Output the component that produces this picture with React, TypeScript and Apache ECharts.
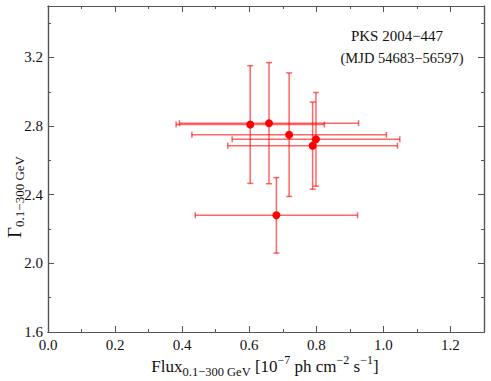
import React, { useEffect, useRef } from "react";
import * as echarts from "echarts";

const flux = [0.603, 0.659, 0.719, 0.799, 0.789, 0.681];
const fluxErr = [0.221, 0.267, 0.29, 0.25, 0.253, 0.242];
const gamma = [2.809, 2.817, 2.75, 2.723, 2.686, 2.28];
const gammaErr = [0.343, 0.353, 0.36, 0.273, 0.254, 0.22];
const yTickLabels = ["1.6", "2.0", "2.4", "2.8", "3.2"];
const xTickLabels = ["0.0", "0.2", "0.4", "0.6", "0.8", "1.0", "1.2"];

const FONT = "'Liberation Serif', 'DejaVu Serif', serif";
const FRAME = "#555555";

export default function App() {
  const ref = useRef<HTMLDivElement>(null);
  useEffect(() => {
    if (!ref.current) return;
    const chart = echarts.init(ref.current, undefined, { renderer: "svg" });
    const errData = flux.map((f, i) => [f, gamma[i], fluxErr[i], gammaErr[i]]);
    const ptData = flux.map((f, i) => [f, gamma[i]]);

    const xBase = (pos: string, interval: number, len: number, labels: boolean) => ({
      type: "value",
      position: pos,
      min: 0,
      max: 1.3,
      interval,
      axisLine: { show: true, onZero: false, lineStyle: { color: FRAME, width: 1.2 } },
      axisTick: { show: true, inside: true, length: len, lineStyle: { color: FRAME, width: 1 } },
      splitLine: { show: false },
      axisLabel: labels
        ? {
            show: true,
            showMaxLabel: false,
            margin: 5,
            color: "#111",
            fontFamily: FONT,
            fontSize: 15,
            formatter: (v: number) => {
              const idx = Math.round(v / 0.2);
              return Math.abs(v - idx * 0.2) < 1e-6 ? xTickLabels[idx] ?? "" : "";
            },
          }
        : { show: false },
    });
    const yBase = (pos: string, interval: number, len: number, labels: boolean) => ({
      type: "value",
      position: pos,
      min: 1.6,
      max: 3.5,
      interval,
      axisLine: { show: true, onZero: false, lineStyle: { color: FRAME, width: 1.2 } },
      axisTick: { show: true, inside: true, length: len, lineStyle: { color: FRAME, width: 1 } },
      splitLine: { show: false },
      axisLabel: labels
        ? {
            show: true,
            showMaxLabel: false,
            margin: 5,
            color: "#111",
            fontFamily: FONT,
            fontSize: 15,
            formatter: (v: number) => {
              const idx = Math.round((v - 1.6) / 0.4);
              return Math.abs(v - 1.6 - idx * 0.4) < 1e-6 ? yTickLabels[idx] ?? "" : "";
            },
          }
        : { show: false },
    });

    chart.setOption({
      animation: false,
      grid: { left: 48, right: 7, top: 6, bottom: 49 },
      xAxis: [
        xBase("bottom", 0.2, 6, true),
        xBase("bottom", 0.1, 3, false),
        xBase("top", 0.2, 6, false),
        xBase("top", 0.1, 3, false),
      ],
      yAxis: [
        yBase("left", 0.4, 6, true),
        yBase("left", 0.2, 3, false),
        yBase("right", 0.4, 6, false),
        yBase("right", 0.2, 3, false),
      ],
      graphic: [
        {
          type: "text",
          x: 397,
          y: 36,
          style: {
            text: "PKS 2004−447",
            fill: "#111",
            font: `15px ${FONT}`,
            textAlign: "center",
            textVerticalAlign: "middle",
          },
        },
        {
          type: "text",
          x: 402,
          y: 58,
          style: {
            text: "(MJD 54683−56597)",
            fill: "#111",
            font: `14.5px ${FONT}`,
            textAlign: "center",
            textVerticalAlign: "middle",
          },
        },
        {
          type: "text",
          x: 265,
          y: 366,
          style: {
            text: "{m|Flux}{s|0.1−300 GeV}{m| [10}{p|−7}{m| ph cm}{p|−2}{m| s}{p|−1}{m|]}",
            fill: "#111",
            textAlign: "center",
            textVerticalAlign: "middle",
            rich: {
              m: { fontFamily: FONT, fontSize: 17, lineHeight: 24, fill: "#111" },
              s: { fontFamily: FONT, fontSize: 12.5, lineHeight: 14, verticalAlign: "bottom", fill: "#111" },
              p: { fontFamily: FONT, fontSize: 12, lineHeight: 14, verticalAlign: "top", fill: "#111" },
            },
          },
        },
        {
          type: "text",
          x: 14,
          y: 197,
          rotation: Math.PI / 2,
          style: {
            text: "{m|Γ}{s|0.1−300 GeV}",
            fill: "#111",
            textAlign: "center",
            textVerticalAlign: "middle",
            rich: {
              m: { fontFamily: FONT, fontSize: 19, lineHeight: 24, fill: "#111" },
              s: { fontFamily: FONT, fontSize: 13, lineHeight: 14, verticalAlign: "bottom", fill: "#111" },
            },
          },
        },
      ],
      series: [
        {
          type: "custom",
          xAxisIndex: 0,
          yAxisIndex: 0,
          data: errData,
          z: 2,
          renderItem: (params: any, api: any) => {
            const x = api.value(0);
            const y = api.value(1);
            const xe = api.value(2);
            const ye = api.value(3);
            const l = api.coord([x - xe, y]);
            const r = api.coord([x + xe, y]);
            const t = api.coord([x, y + ye]);
            const b = api.coord([x, y - ye]);
            const cap = 3;
            const st = { stroke: "rgba(255,0,0,0.6)", lineWidth: 1.5 };
            return {
              type: "group",
              children: [
                { type: "line", shape: { x1: l[0], y1: l[1], x2: r[0], y2: r[1] }, style: st },
                { type: "line", shape: { x1: l[0], y1: l[1] - cap, x2: l[0], y2: l[1] + cap }, style: st },
                { type: "line", shape: { x1: r[0], y1: r[1] - cap, x2: r[0], y2: r[1] + cap }, style: st },
                { type: "line", shape: { x1: t[0], y1: t[1], x2: b[0], y2: b[1] }, style: st },
                { type: "line", shape: { x1: t[0] - cap, y1: t[1], x2: t[0] + cap, y2: t[1] }, style: st },
                { type: "line", shape: { x1: b[0] - cap, y1: b[1], x2: b[0] + cap, y2: b[1] }, style: st },
              ],
            };
          },
        },
        {
          type: "scatter",
          xAxisIndex: 0,
          yAxisIndex: 0,
          data: ptData,
          symbol: "circle",
          symbolSize: 8,
          itemStyle: { color: "#ff0000", opacity: 1 },
          z: 3,
        },
      ],
    });
    return () => chart.dispose();
  }, []);
  return <div ref={ref} style={{ width: 491, height: 381, position: "absolute", left: 0, top: 0 }} />;
}
